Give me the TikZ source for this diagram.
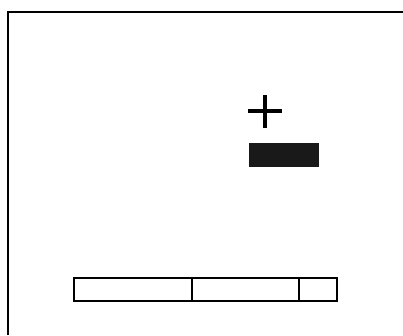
\documentclass[tikz,border=0pt]{standalone}
\usepackage{tikz}
\usetikzlibrary{positioning}

\begin{document}
\begin{tikzpicture}[
  x=1pt, y=-1pt,
  node distance=0pt,
  seg/.style={
    rectangle, draw=black, line width=1.2pt,
    minimum height=23pt, inner sep=0pt, outer sep=0pt
  },
  sign/.style={line width=4.5pt}
]
  \useasboundingbox (0,0) rectangle (403,335);
  % frame
  \draw[line width=2pt] (8,335) -- (8,12) -- (403,12);

  % plus and minus
  \draw[sign] (265,95) -- (265,128);
  \draw[sign] (248,111) -- (282,111);
  \node[fill=black!90, minimum width=70pt, minimum height=24pt,
        inner sep=0pt] (minus) at (284,155) {};

  % bar
  \node[seg, minimum width=118pt, anchor=north west] (left) at (74,278) {};
  \node[seg, minimum width=107pt, right=of left]  (mid)   {};
  \node[seg, minimum width=38pt,  right=of mid]   (right) {};
\end{tikzpicture}
\end{document}
